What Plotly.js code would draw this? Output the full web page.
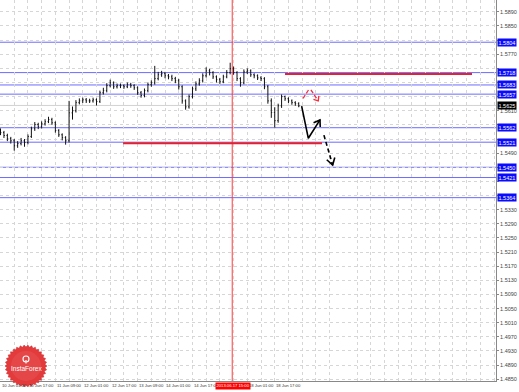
<!DOCTYPE html>
<html><head><meta charset="utf-8">
<script src="https://cdn.plot.ly/plotly-3.0.1.min.js"></script>
<style>html,body{margin:0;padding:0;background:#fff}#chart{width:519px;height:392px}</style>
</head><body><div id="chart"></div>
<script>
// ---- data (H1 chart, sampled every 2 bars; x = bar index from 10 Jun 01:00) ----
const barIndex = [0,2,4,6,8,10,12,14,16,18,20,22,24,26,28,30,32,34,36,38,40,42,44,46,48,50,52,54,56,58,60,62,64,66,68,70,72,74,76,78,80,82,84,86,88,90,92,94,96,98,100,102,104,106,108,110,112,114,116,118,120,122,124,126,128,130,132,134,136,138,140,142,144,146,148,150,152,154,156,158,160,162,164,166,168,170,172,174];
const opens = [1.5552,1.5548,1.5540,1.5531,1.5525,1.5511,1.5517,1.5525,1.5520,1.5537,1.5559,1.5571,1.5565,1.5573,1.5579,1.5585,1.5576,1.5554,1.5542,1.5534,1.5525,1.5604,1.5610,1.5633,1.5638,1.5641,1.5638,1.5638,1.5641,1.5636,1.5661,1.5667,1.5681,1.5689,1.5678,1.5681,1.5681,1.5678,1.5684,1.5681,1.5675,1.5661,1.5653,1.5667,1.5684,1.5689,1.5701,1.5712,1.5715,1.5709,1.5706,1.5701,1.5695,1.5678,1.5638,1.5621,1.5650,1.5672,1.5686,1.5695,1.5709,1.5723,1.5718,1.5706,1.5698,1.5692,1.5706,1.5718,1.5729,1.5718,1.5701,1.5689,1.5720,1.5723,1.5712,1.5709,1.5703,1.5701,1.5678,1.5638,1.5605,1.5582,1.5624,1.5650,1.5644,1.5638,1.5633,1.5630];
const highs = [1.5560,1.5553,1.5545,1.5536,1.5530,1.5524,1.5533,1.5530,1.5543,1.5565,
1.5578,1.5576,1.5580,1.5586,1.5593,1.5590,1.5580,1.5558,1.5546,1.5538,
1.5638,1.5622,1.5640,1.5645,1.5647,1.5646,1.5644,1.5647,1.5645,1.5667,
1.5675,1.5688,1.5698,1.5693,1.5687,1.5687,1.5685,1.5690,1.5689,1.5685,
1.5679,1.5666,1.5673,1.5690,1.5696,1.5737,1.5720,1.5723,1.5720,1.5714,
1.5712,1.5706,1.5700,1.5682,1.5642,1.5656,1.5678,1.5693,1.5702,1.5716,
1.5733,1.5729,1.5722,1.5710,1.5703,1.5712,1.5725,1.5746,1.5735,1.5722,
1.5705,1.5727,1.5730,1.5727,1.5716,1.5713,1.5708,1.5705,1.5683,1.5645,
1.5620,1.5630,1.5656,1.5653,1.5648,1.5642,1.5637,1.5634];
const lows = [1.5541,1.5533,1.5524,1.5517,1.5497,1.5505,1.5512,1.5508,1.5515,1.5533,
1.5553,1.5558,1.5560,1.5568,1.5575,1.5570,1.5548,1.5536,1.5526,1.5514,
1.5520,1.5585,1.5605,1.5628,1.5632,1.5632,1.5632,1.5633,1.5625,1.5632,
1.5656,1.5662,1.5676,1.5672,1.5673,1.5674,1.5672,1.5674,1.5675,1.5669,
1.5655,1.5647,1.5648,1.5662,1.5678,1.5684,1.5696,1.5706,1.5702,1.5699,
1.5694,1.5688,1.5670,1.5630,1.5613,1.5616,1.5645,1.5666,1.5681,1.5690,
1.5704,1.5710,1.5700,1.5690,1.5686,1.5688,1.5702,1.5713,1.5712,1.5694,
1.5678,1.5685,1.5714,1.5706,1.5702,1.5697,1.5694,1.5671,1.5630,1.5590,
1.5562,1.5576,1.5618,1.5638,1.5632,1.5627,1.5624,1.5620];
const closes = [1.5548,1.5540,1.5531,1.5525,1.5511,1.5517,1.5525,1.5520,1.5537,1.5559,1.5571,1.5565,1.5573,1.5579,1.5585,1.5576,1.5554,1.5542,1.5534,1.5525,1.5604,1.5610,1.5633,1.5638,1.5641,1.5638,1.5638,1.5641,1.5636,1.5661,1.5667,1.5681,1.5689,1.5678,1.5681,1.5681,1.5678,1.5684,1.5681,1.5675,1.5661,1.5653,1.5667,1.5684,1.5689,1.5701,1.5712,1.5715,1.5709,1.5706,1.5701,1.5695,1.5678,1.5638,1.5621,1.5650,1.5672,1.5686,1.5695,1.5709,1.5723,1.5718,1.5706,1.5698,1.5692,1.5706,1.5718,1.5729,1.5718,1.5701,1.5689,1.5720,1.5723,1.5712,1.5709,1.5703,1.5701,1.5678,1.5638,1.5605,1.5582,1.5624,1.5650,1.5644,1.5638,1.5633,1.5630,1.5624];

// support/resistance levels (blue) and current price
const blueLevels = [1.5804,1.5718,1.5683,1.5657,1.5562,1.5521,1.5450,1.5421,1.5364];
const currentPrice = 1.5625;
// red target lines
const redLineFrom = [166.0, 71.5];
const redLineTo   = [275.1, 187.6];
const redLinePrice= [1.5714, 1.5518];
// forecast paths
const fcSolidBar = [175.7, 179.6, 186.4];
const fcSolidPrice = [1.5623, 1.5532, 1.5584];
const fcDashBar = [188.7, 193.8];
const fcDashPrice = [1.5541, 1.5456];
const redFc1Bar = [176.5, 180.0];
const redFc1Price = [1.5645, 1.5671];
const redFc2Bar = [181.1, 185.4];
const redFc2Price = [1.5669, 1.5638];
// vertical marker
const markerBar = 135.2;
const markerLabel = '2013.06.17 15:00';
// axis labels (the 17 Jun 09:00 label is hidden by the marker label in the source)
const xTickBars = [0,16,32,48,64,80,96,112,144,160];
const xTickLabels = ['10 Jun 01:00','10 Jun 17:00','11 Jun 09:00','12 Jun 01:00','12 Jun 17:00','13 Jun 09:00','14 Jun 01:00','14 Jun 17:00','18 Jun 01:00','18 Jun 17:00'];
const yTickVals = [1.5890,1.5850,1.5810,1.5770,1.5730,1.5690,1.5650,1.5610,1.5570,1.5530,1.5490,1.5450,1.5410,1.5370,1.5330,1.5290,1.5250,1.5210,1.5170,1.5130,1.5090,1.5050,1.5010,1.4970,1.4930,1.4890,1.4850];

// ---- geometry ----
const W=519,H=392,M={l:0,r:23,t:0,b:11};
const PW=W-M.l-M.r, PH=H-M.t-M.b;
const xr=[-0.3,289.1], yr=[1.4845,1.59235];
const toPx=(x,y)=>[(x-xr[0])/(xr[1]-xr[0])*PW,(yr[1]-y)/(yr[1]-yr[0])*PH];
const fromPx=(px,py)=>[xr[0]+px/PW*(xr[1]-xr[0]), yr[1]-py/PH*(yr[1]-yr[0])];
const FONT='Liberation Sans, Arial, sans-serif';

function arrowHead(fx,fy,tx,ty,len,ang){
  const a=toPx(fx,fy), b=toPx(tx,ty);
  let dx=b[0]-a[0], dy=b[1]-a[1]; const n=Math.hypot(dx,dy); dx/=n; dy/=n;
  const pts=[];
  for(const s of [1,-1]){
    const c=Math.cos(s*ang), si=Math.sin(s*ang);
    const rx=dx*c-dy*si, ry=dx*si+dy*c;
    pts.push(fromPx(b[0]-len*rx,b[1]-len*ry));
  }
  return {x:[pts[0][0],tx,pts[1][0]], y:[pts[0][1],ty,pts[1][1]]};
}

const traces=[];
traces.push({type:'ohlc',x:barIndex,open:opens,high:highs,low:lows,close:closes,
  increasing:{line:{color:'#111',width:1}},decreasing:{line:{color:'#111',width:1}},
  tickwidth:0.25,hoverinfo:'skip',showlegend:false});
traces.push({type:'scatter',mode:'lines',x:fcSolidBar,y:fcSolidPrice,line:{color:'#000',width:1.6},hoverinfo:'skip',showlegend:false});
traces.push({type:'scatter',mode:'lines',x:fcDashBar,y:fcDashPrice,line:{color:'#000',width:1.6,dash:'4px,3px'},hoverinfo:'skip',showlegend:false});
traces.push({type:'scatter',mode:'lines',x:redFc1Bar,y:redFc1Price,line:{color:'#ff2a3a',width:1.3,dash:'4px,2px'},hoverinfo:'skip',showlegend:false});
traces.push({type:'scatter',mode:'lines',x:redFc2Bar,y:redFc2Price,line:{color:'#ff2a3a',width:1.3,dash:'4px,2px'},hoverinfo:'skip',showlegend:false});
const ah1=arrowHead(fcSolidBar[1],fcSolidPrice[1],fcSolidBar[2],fcSolidPrice[2],7,0.6);
const ah2=arrowHead(fcDashBar[0],fcDashPrice[0],fcDashBar[1],fcDashPrice[1],8,0.55);
const ah3=arrowHead(redFc2Bar[0],redFc2Price[0],redFc2Bar[1],redFc2Price[1],5,0.7);
traces.push({type:'scatter',mode:'lines',x:ah1.x,y:ah1.y,line:{color:'#000',width:1.6},hoverinfo:'skip',showlegend:false});
traces.push({type:'scatter',mode:'lines',x:ah2.x,y:ah2.y,line:{color:'#000',width:1.6},hoverinfo:'skip',showlegend:false});
traces.push({type:'scatter',mode:'lines',x:ah3.x,y:ah3.y,line:{color:'#ff2a3a',width:1.3},hoverinfo:'skip',showlegend:false});

const shapes=[], ann=[];
shapes.push({type:'line',xref:'paper',x0:0,x1:1,yref:'y',y0:currentPrice,y1:currentPrice,line:{color:'#d2d2d2',width:1},layer:'below'});
blueLevels.forEach(v=>{
  shapes.push({type:'line',xref:'paper',x0:0,x1:1,yref:'y',y0:v,y1:v,line:{color:'#6c6cff',width:1},layer:'below'});
});
redLinePrice.forEach((p,i)=>{
  shapes.push({type:'line',xref:'x',x0:redLineFrom[i],x1:redLineTo[i],yref:'y',y0:p,y1:p,line:{color:'#e8202c',width:2}});
});
shapes.push({type:'line',xref:'x',x0:markerBar,x1:markerBar,yref:'paper',y0:0,y1:1,line:{color:'#ff3a3a',width:1},layer:'below'});

// x labels (left-aligned at their grid line, as in the terminal)
xTickBars.forEach((b,i)=>{
  ann.push({xref:'x',x:b,xanchor:'left',xshift:0.3,yref:'paper',y:0,yanchor:'top',yshift:-1,text:xTickLabels[i],showarrow:false,
    font:{family:FONT,size:4.2,color:'#333'},borderpad:0});
});
ann.push({xref:'x',x:markerBar,xanchor:'center',xshift:0.5,yref:'paper',y:0,yanchor:'top',yshift:-1,text:markerLabel,showarrow:false,
  bgcolor:'#ff0000',font:{family:FONT,size:4.2,color:'#fff'},borderpad:0.4});

// right-side level boxes
const boxLevels = blueLevels.concat([currentPrice]);
blueLevels.forEach(v=>{
  ann.push({xref:'paper',x:1,xanchor:'left',xshift:1,yref:'y',y:v,text:v.toFixed(4),showarrow:false,
    bgcolor:'#0a0aff',font:{family:FONT,size:5.5,color:'#fff'},borderpad:0.5});
});
ann.push({xref:'paper',x:1,xanchor:'left',xshift:1,yref:'y',y:currentPrice,text:currentPrice.toFixed(4),showarrow:false,
  bgcolor:'#000',font:{family:FONT,size:5.5,color:'#fff'},borderpad:0.5});

// InstaForex seal (decorative logo)
const cx=26, cy=366, teeth=34, rO=21, rI=19;
let path='';
for(let k=0;k<teeth*2;k++){
  const r=(k%2===0)?rO:rI, a=k*Math.PI/teeth;
  const px=cx+r*Math.cos(a), py=cy+r*Math.sin(a);
  path+=(k===0?'M':'L')+(px/PW).toFixed(5)+','+(1-py/PH).toFixed(5);
}
path+='Z';
shapes.push({type:'path',xref:'paper',yref:'paper',path:path,fillcolor:'#e33a3c',line:{color:'#cc2a2c',width:0.5},layer:'above'});
shapes.push({type:'circle',xref:'paper',yref:'paper',x0:(cx-15)/PW,x1:(cx+15)/PW,y0:1-(cy+15)/PH,y1:1-(cy-15)/PH,fillcolor:'rgba(255,255,255,0.07)',line:{width:0},layer:'above'});
shapes.push({type:'circle',xref:'paper',yref:'paper',x0:(cx-3)/PW,x1:(cx+3)/PW,y0:1-(cy-7+3)/PH,y1:1-(cy-7-3)/PH,fillcolor:'rgba(0,0,0,0)',line:{color:'#fff',width:1.1},layer:'above'});
shapes.push({type:'line',xref:'paper',yref:'paper',x0:cx/PW,x1:cx/PW,y0:1-(cy-6)/PH,y1:1-(cy-2.5)/PH,line:{color:'#fff',width:1.1},layer:'above'});
ann.push({xref:'paper',yref:'paper',x:cx/PW,xanchor:'center',y:1-(cy+2)/PH,yanchor:'middle',text:'InstaForex',showarrow:false,
  font:{family:FONT,size:6.5,color:'#fff'}});

// hide tick labels fully covered by a level box
const yTickText = yTickVals.map(v=> boxLevels.some(l=>Math.abs(l-v)<0.0014) ? '' : v.toFixed(4));

const layout={
  width:W,height:H,margin:M,paper_bgcolor:'#fff',plot_bgcolor:'#fff',showlegend:false,
  xaxis:{range:xr,fixedrange:true,rangeslider:{visible:false},showgrid:false,zeroline:false,
    showticklabels:false,ticks:'',
    showline:true,linecolor:'#888',linewidth:1,
    minor:{dtick:8,tick0:0,showgrid:true,gridcolor:'#d6d6d6',griddash:'dot',gridwidth:1,ticks:''}},
  yaxis:{range:yr,fixedrange:true,side:'right',tickmode:'array',tickvals:yTickVals,
    ticktext:yTickText,
    tickfont:{family:FONT,size:5.5,color:'#444'},ticks:'outside',ticklen:2,tickcolor:'#888',
    showgrid:true,gridcolor:'#d6d6d6',griddash:'dot',gridwidth:1,zeroline:false,
    showline:true,linecolor:'#888',linewidth:1},
  shapes:shapes,annotations:ann
};
Plotly.newPlot('chart',traces,layout,{staticPlot:true,displayModeBar:false});
</script></body></html>
